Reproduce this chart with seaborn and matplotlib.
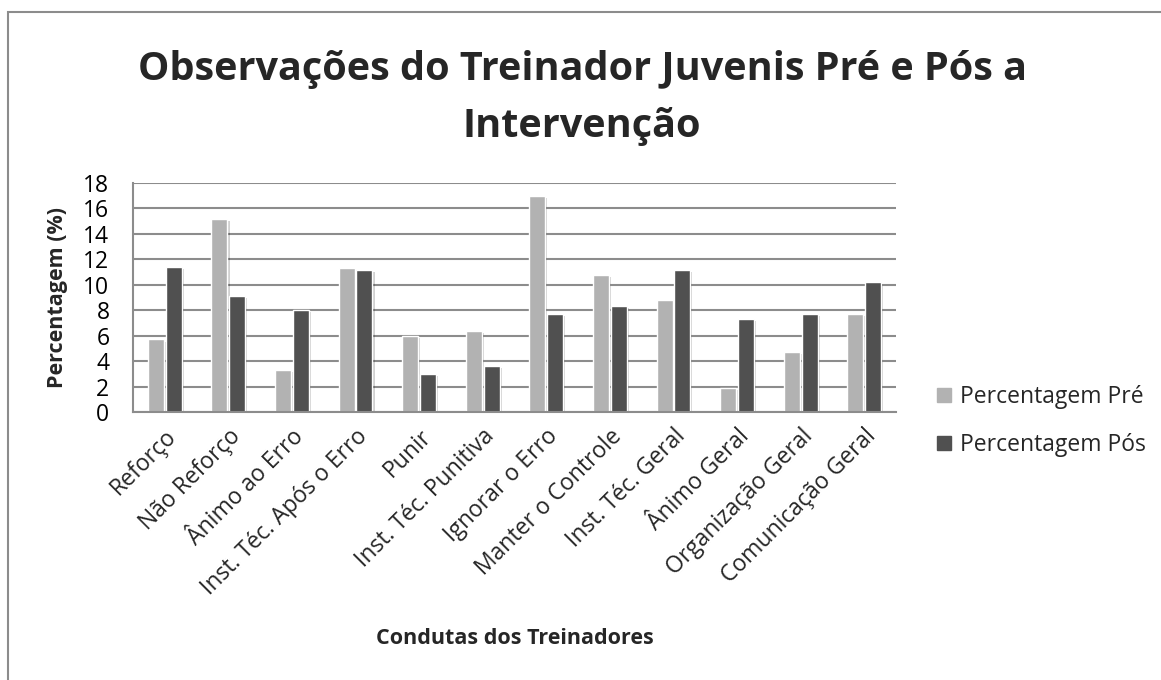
import matplotlib
matplotlib.use("Agg")
import matplotlib.pyplot as plt
import matplotlib.patheffects as pe
from matplotlib.lines import Line2D
from matplotlib.patches import Rectangle
import seaborn as sns
import pandas as pd

categories = ["Reforço", "Não Reforço", "Ânimo ao Erro", "Inst. Téc. Após o Erro",
              "Punir", "Inst. Téc. Punitiva", "Ignorar o Erro", "Manter o Controle",
              "Inst. Téc. Geral", "Ânimo Geral", "Organização Geral", "Comunicação Geral"]
pre = [5.7, 15.2, 3.3, 11.3, 6.0, 6.4, 17.0, 10.8, 8.8, 1.9, 4.7, 7.7]
pos = [11.4, 9.1, 8.0, 11.2, 3.0, 3.6, 7.7, 8.3, 11.2, 7.3, 7.7, 10.2]
series = ["Percentagem Pré", "Percentagem Pós"]
colors = ["#b2b2b2", "#505050"]
yticks = [0, 2, 4, 6, 8, 10, 12, 14, 16, 18]

df = pd.DataFrame({
    "Conduta": categories * 2,
    "Valor": pre + pos,
    "Série": [series[0]] * len(categories) + [series[1]] * len(categories),
})

sns.set_theme(style="white")
plt.rcParams["font.family"] = ["Open Sans", "DejaVu Sans"]

W, H = 1161, 680
fig = plt.figure(figsize=(W / 100, H / 100), dpi=100)
fig.patch.set_facecolor("white")

# outer chart border (only top/left visible in the reference)
fig.patches.append(Rectangle((8 / W, -0.05), 1.2, 1 - 12 / H + 0.05, transform=fig.transFigure,
                             fill=False, edgecolor="#8c8c8c", linewidth=1.5))

ax_left, ax_right, ax_bottom, ax_top = 133, 896, 412, 183
ax = fig.add_axes([ax_left / W, 1 - ax_bottom / H, (ax_right - ax_left) / W, (ax_bottom - ax_top) / H])
sns.barplot(data=df, x="Conduta", y="Valor", hue="Série", order=categories,
            hue_order=series, palette=dict(zip(series, colors)), width=0.56, gap=0.1,
            edgecolor="white", linewidth=1.0, saturation=1, ax=ax, legend=False)
for p in ax.patches:
    p.set_path_effects([pe.SimplePatchShadow(offset=(1.5, -1.5), shadow_rgbFace="#000000", alpha=0.18),
                        pe.Normal()])

ax.set_ylim(0, 18)
ax.set_xlim(-0.5, len(categories) - 0.5)
ax.set_yticks(yticks)
ax.set_yticklabels([str(v) for v in yticks], fontsize=16.5)
ax.yaxis.grid(True, color="#8c8c8c", linewidth=1.5)
ax.set_axisbelow(True)
for s in ["top", "right"]:
    ax.spines[s].set_visible(False)
for s in ["left", "bottom"]:
    ax.spines[s].set_color("#8c8c8c")
    ax.spines[s].set_linewidth(1.5)
ax.tick_params(axis="y", length=6, width=1.5, color="#8c8c8c", pad=11, labelcolor="black")
ax.tick_params(axis="x", length=0, pad=9)
ax.set_xticks(range(len(categories)))
ax.set_xticklabels(categories, rotation=45, ha="right", rotation_mode="anchor", fontsize=16.5)
ax.set_xlabel("Condutas dos Treinadores", fontsize=15.5, fontweight="bold")
ax.set_ylabel("Percentagem (%)", fontsize=15.5, fontweight="bold")
ax.xaxis.set_label_coords(0.5, -(638 - ax_bottom) / (ax_bottom - ax_top))
ax.xaxis.label.set_va("center")
ax.yaxis.set_label_coords(-(ax_left - 58) / (ax_right - ax_left), 0.5)
ax.yaxis.label.set_va("center")

fig.text(582 / W, 1 - 80 / H, "Observações do Treinador Juvenis Pré e Pós a",
         ha="center", va="baseline", fontsize=28.5, fontweight="bold")
fig.text(582 / W, 1 - 137 / H, "Intervenção",
         ha="center", va="baseline", fontsize=28.5, fontweight="bold")

handles = [Line2D([], [], marker="s", linestyle="", markersize=10, color=c) for c in colors]
fig.legend(handles, series, loc="center left", bbox_to_anchor=(935 / W, 1 - 421 / H),
           frameon=False, fontsize=16.5, handlelength=0.8, handletextpad=0.3,
           labelspacing=1.05, borderpad=0, borderaxespad=0)

fig.savefig("out.png", dpi=100, facecolor="white")
